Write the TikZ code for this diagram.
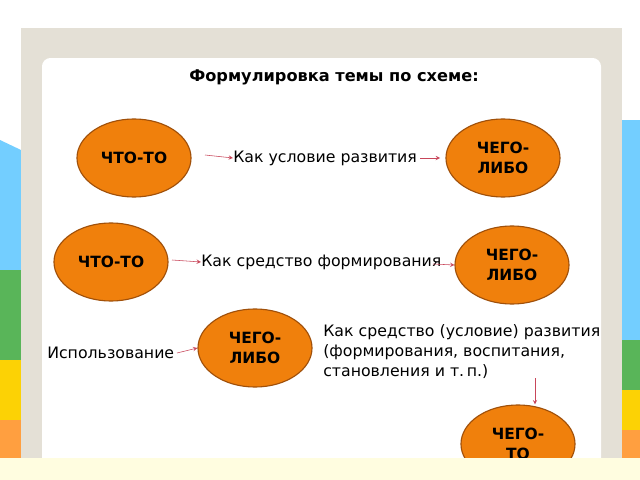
\documentclass[tikz,border=0pt]{standalone}
\usepackage{fontspec}
\setmainfont{DejaVu Sans}
\usetikzlibrary{shapes.geometric}

\definecolor{ovalfill}{RGB}{240,128,12}
\definecolor{ovaldraw}{RGB}{160,80,10}
\definecolor{arrowred}{RGB}{200,70,90}
\definecolor{framegray}{RGB}{228,224,214}

\tikzset{
    oval/.style={ellipse,draw=ovaldraw,fill=ovalfill,thick,minimum width=2.85cm,
                 minimum height=1.95cm,inner sep=0pt,align=center,
                 font=\bfseries\fontsize{11}{14}\selectfont},
    lbl/.style={font=\fontsize{11.2}{14.2}\selectfont,inner sep=0pt},
    pil/.style={draw=arrowred,->,>=stealth,thin}
}

\begin{document}
\begin{tikzpicture}[x=0.025cm,y=-0.025cm]
            \useasboundingbox (0,0) rectangle (640,480);
            % side stripes
            \fill [white] (0,0) rectangle (640,480);
            \fill [blue!35!cyan!55] (0,140) -- (21,150) -- (21,270) -- (0,270) -- cycle;
            \fill [green!55!black!65] (0,270) rectangle (21,360);
            \fill [yellow!70!orange] (0,360) rectangle (21,420);
            \fill [orange!75] (0,420) rectangle (21,460);
            \fill [blue!35!cyan!55] (622,120) rectangle (640,340);
            \fill [green!55!black!65] (622,340) rectangle (640,390);
            \fill [yellow!70!orange] (622,390) rectangle (640,430);
            \fill [orange!75] (622,430) rectangle (640,460);
            \fill [framegray] (21,28) rectangle (622,458);
            \fill [white,rounded corners=6] (42,58) rectangle (601,470);

            \node [font=\bfseries\fontsize{11.5}{14}\selectfont] (title) at (334,77) {Формулировка темы по схеме:};

            % row 1
            \node [oval] (a1) at (134,158) {ЧТО-ТО};
            \node [oval] (b1) at (503,158) {ЧЕГО-\\ЛИБО};
            \node [lbl,anchor=west] (t1) at (233,158) {Как условие развития};
            \coordinate (p1) at (205,155);
            \coordinate (p2) at (420,158);
            \coordinate (q2) at (440,158);
            \draw [pil] (p1) -- (t1.west);
            \draw [pil] (p2) -- (q2);

            % row 2
            \node [oval] (a2) at (111,262) {ЧТО-ТО};
            \node [oval] (b2) at (512,265) {ЧЕГО-\\ЛИБО};
            \node [lbl,anchor=west] (t2) at (201,262) {Как средство формирования};
            \coordinate (p3) at (172,260);
            \coordinate (p4) at (433,264);
            \draw [pil] (p3) -- (t2.west);
            \draw [pil] (p4) -- (b2.west);

            % row 3
            \node [lbl,anchor=west] (t3) at (47,353) {Использование};
            \node [oval] (b3) at (255,348) {ЧЕГО-\\ЛИБО};
            \node [lbl,anchor=west,align=left] (t4) at (323,352)
                {Как средство (условие) развития\\(формирования, воспитания,\\становления и т.\,п.)};
            \node [oval] (c3) at (518,444) {ЧЕГО-\\ТО};
            \coordinate (p5) at (177,353);
            \draw [pil] (p5) -- (b3.west);
            \coordinate (p6) at (535,378);
            \draw [pil] (p6) -- (c3.north -| p6);
            \fill [yellow!12] (0,458) rectangle (640,480);
        \end{tikzpicture}
\end{document}
